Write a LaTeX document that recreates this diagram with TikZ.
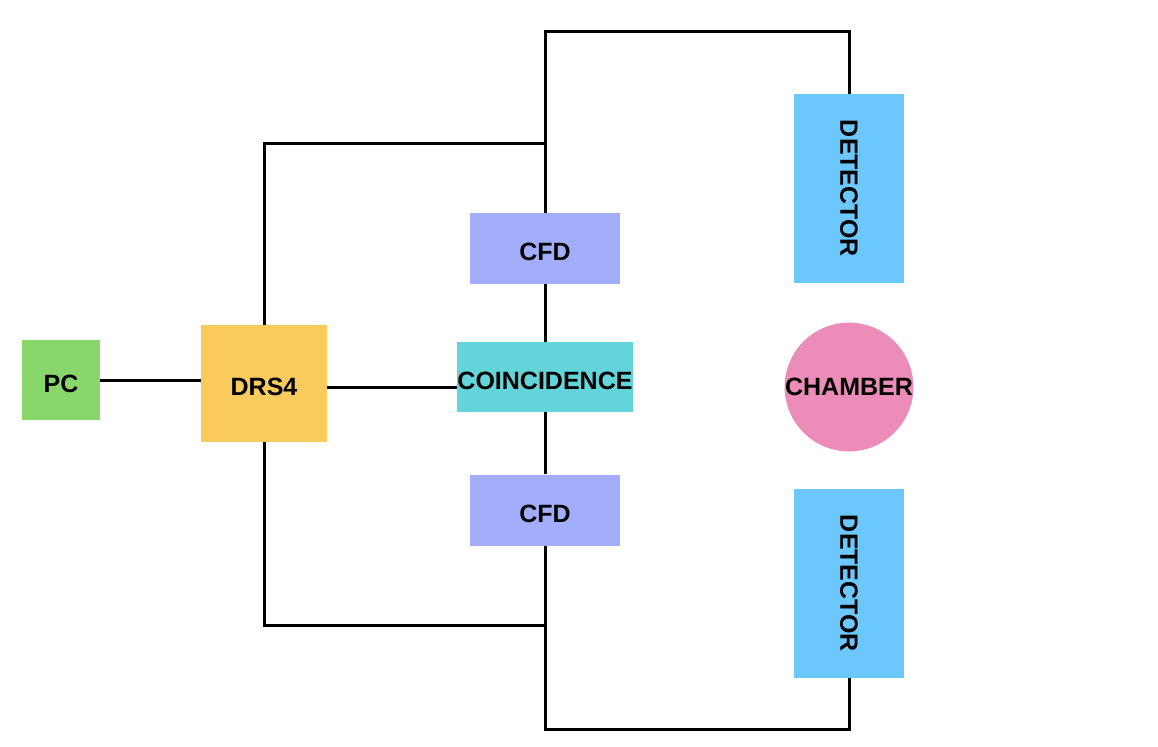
\documentclass[tikz,border=0pt]{standalone}
\usepackage{fontspec}
\setmainfont{Liberation Sans}
\usepackage{tikz}
\usetikzlibrary{positioning}

\definecolor{pcgreen}{HTML}{87D76A}
\definecolor{drsorange}{HTML}{F8CB5C}
\definecolor{cfdblue}{HTML}{A2AEFB}
\definecolor{coincyan}{HTML}{62D4DA}
\definecolor{detblue}{HTML}{6CC7FC}
\definecolor{champink}{HTML}{EC8CB8}

\begin{document}
\begin{tikzpicture}[
    x=0.5pt, y=-0.5pt,
    box/.style={rectangle, inner sep=0pt, align=center, text height=12.5pt, font=\fontsize{12.5}{14}\selectfont\bfseries},
    pcbox/.style={box, fill=pcgreen, minimum width=39pt, minimum height=40pt},
    drsbox/.style={box, fill=drsorange, minimum width=63pt, minimum height=58.5pt},
    cfdbox/.style={box, fill=cfdblue, minimum width=75pt, minimum height=35.5pt},
    coinbox/.style={box, fill=coincyan, minimum width=88pt, minimum height=35pt},
    detbox/.style={box, fill=detblue, minimum width=55pt, minimum height=94.5pt},
    chamber/.style={circle, inner sep=0pt, fill=champink, minimum size=63pt, font=\fontsize{12.5}{14}\selectfont\bfseries},
    wire/.style={line width=1.5pt, color=black}
]
    \useasboundingbox (0,0) rectangle (1158,746);

    % Read-out chain
    \node[pcbox] (pc) at (61,380) {PC};
    \node[drsbox] (drs) at (264,383.5) {DRS4};
    \node[cfdbox] (cfd1) at (545,248.5) {CFD};
    \node[coinbox] (coin) at (545,377) {COINCIDENCE};
    \node[cfdbox] (cfd2) at (545,510) {CFD};

    % Detectors round the chamber
    \node[detbox] (det1) at (849,188.5) {};
    \node[rotate=-90, font=\fontsize{12.5}{14}\selectfont\bfseries] at (det1) {DETECTOR};
    \node[detbox] (det2) at (849,583.5) {};
    \node[rotate=-90, font=\fontsize{12.5}{14}\selectfont\bfseries] at (det2) {DETECTOR};
    \node[chamber] (ch) at (849,387) {CHAMBER};

    % Wiring
    \coordinate (top) at (700,31);
    \coordinate (bot) at (700,729);
    \coordinate (tapA) at (546,143);
    \coordinate (tapB) at (546,625);

    \draw[wire] (pc.east) -- (pc.east -| drs.west);
    \draw[wire] ([yshift=-1.75pt]drs.east) -- ([yshift=-1.75pt]drs.east -| coin.west);
    \draw[wire] (drs.north) |- (tapA);
    \draw[wire] (drs.south) |- (tapB);
    \draw[wire] (cfd1.north) |- (top) -| (det1.north);
    \draw[wire] (cfd1.south) -- (coin.north);
    \draw[wire] (coin.south) -- (cfd2.north);
    \draw[wire] (cfd2.south) |- (bot) -| (det2.south);
\end{tikzpicture}
\end{document}
